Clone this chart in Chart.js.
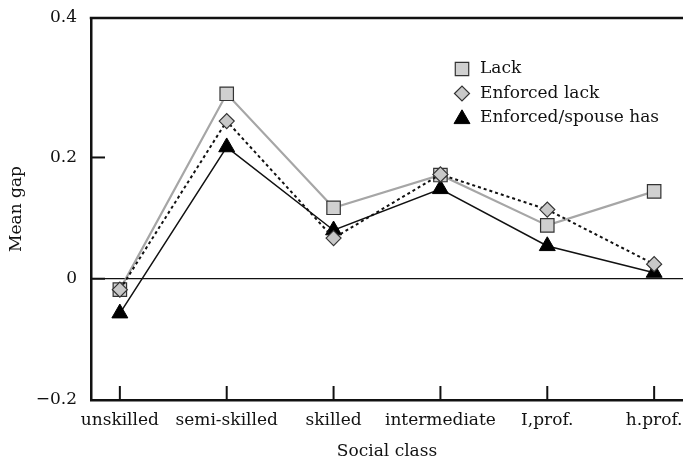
<!DOCTYPE html>
<html>
<head>
<meta charset="utf-8">
<script src="https://cdn.jsdelivr.net/npm/chart.js@4.4.1/dist/chart.umd.min.js"></script>
<style>
  html, body { margin: 0; padding: 0; background: #fff; overflow: hidden; }
  #wrap { width: 683px; height: 463px; }
</style>
</head>
<body>
<div id="wrap"><canvas id="gapChart" width="683" height="463"></canvas></div>
<script>
// values
const classes = ['unskilled', 'semi-skilled', 'skilled', 'intermediate', 'I,prof.', 'h.prof.'];
const lack = [-0.018, 0.305, 0.117, 0.171, 0.088, 0.144];
const enforcedLack = [-0.018, 0.26, 0.067, 0.172, 0.114, 0.024];
const enforcedSpouse = [-0.057, 0.217, 0.08, 0.148, 0.054, 0.01];
const yTickValues = [-0.2, 0, 0.2, 0.43];
const yTickLabels = ['\u22120.2', '0', '0.2', '0.4'];

const FONT = '"DejaVu Serif", serif';
const INK = '#111';

function toPoints(arr) {
    return arr.map((v, i) => ({ x: i, y: v }));
}

// inward tick marks + the top frame line
const frameTicks = {
    id: 'frameTicks',
    afterDatasetsDraw(chart) {
        const { ctx, chartArea, scales } = chart;
        ctx.save();
        ctx.strokeStyle = INK;
        ctx.lineWidth = 2;
        scales.y.ticks.forEach(t => {
            if (t.value >= scales.y.max || t.value <= scales.y.min) return;
            const py = scales.y.getPixelForValue(t.value);
            ctx.beginPath();
            ctx.moveTo(chartArea.left, py);
            ctx.lineTo(chartArea.left + 14, py);
            ctx.stroke();
        });
        scales.x.ticks.forEach(t => {
            const px = scales.x.getPixelForValue(t.value);
            ctx.beginPath();
            ctx.moveTo(px, chartArea.bottom);
            ctx.lineTo(px, chartArea.bottom - 14);
            ctx.stroke();
        });
        ctx.lineWidth = 2.5;
        ctx.beginPath();
        ctx.moveTo(chartArea.left - 1.25, chartArea.top);
        ctx.lineTo(chartArea.right, chartArea.top);
        ctx.stroke();
        ctx.restore();
    }
};

// legend inside the plot, upper right
const insetLegend = {
    id: 'insetLegend',
    afterDraw(chart) {
        const ctx = chart.ctx;
        const mx = 462, tx = 480, y0 = 69, step = 24.5;
        ctx.save();
        ctx.font = '17px ' + FONT;
        ctx.textBaseline = 'middle';
        chart.data.datasets.forEach((ds, i) => {
            const y = y0 + i * step;
            ctx.setLineDash([]);
            ctx.fillStyle = ds.pointBackgroundColor;
            ctx.strokeStyle = ds.pointBorderColor;
            ctx.lineWidth = ds.pointBorderWidth;
            Chart.helpers.drawPoint(ctx, {
                pointStyle: ds.pointStyle,
                radius: ds.pointRadius,
                borderWidth: ds.pointBorderWidth,
                rotation: 0
            }, mx, y + (ds.pointStyle === 'triangle' ? 1 : 0));
            ctx.fillStyle = INK;
            ctx.fillText(ds.label, tx, y);
        });
        ctx.restore();
    }
};

const ctx = document.getElementById('gapChart').getContext('2d');
const gapChart = new Chart(ctx, {
    type: 'line',
    data: {
        datasets: [{
            label: 'Lack',
            data: toPoints(lack),
            borderColor: '#a6a6a6',
            borderWidth: 2.2,
            pointStyle: 'rect',
            pointRadius: 9.5,
            pointBackgroundColor: '#d0d0d0',
            pointBorderColor: '#333',
            pointBorderWidth: 1.2,
            order: 1
        }, {
            label: 'Enforced lack',
            data: toPoints(enforcedLack),
            borderColor: INK,
            borderWidth: 2,
            borderDash: [3, 3],
            pointStyle: 'rectRot',
            pointRadius: 7.5,
            pointBackgroundColor: '#c8c8c8',
            pointBorderColor: '#333',
            pointBorderWidth: 1.2,
            order: 0
        }, {
            label: 'Enforced/spouse has',
            data: toPoints(enforcedSpouse),
            borderColor: INK,
            borderWidth: 1.5,
            pointStyle: 'triangle',
            pointRadius: 9.2,
            pointBackgroundColor: '#000',
            pointBorderColor: '#000',
            pointBorderWidth: 1,
            order: 2
        }]
    },
    options: {
        responsive: false,
        animation: false,
        events: [],
        layout: {
            autoPadding: false,
            padding: { left: 0, top: 18, right: 0, bottom: 0 }
        },
        plugins: {
            legend: { display: false },
            tooltip: { enabled: false }
        },
        scales: {
            x: {
                type: 'linear',
                min: -0.27,
                max: 5.27,
                afterBuildTicks(scale) {
                    scale.ticks = classes.map((c, i) => ({ value: i }));
                },
                afterFit(scale) {
                    scale.height = 63;
                    scale.paddingLeft = 0;
                    scale.paddingRight = 0;
                },
                grid: { display: false, drawTicks: false },
                border: { display: true, color: INK, width: 2.5 },
                ticks: {
                    padding: 10,
                    maxRotation: 0,
                    autoSkip: false,
                    color: INK,
                    font: { family: FONT, size: 17 },
                    callback: v => classes[v]
                },
                title: {
                    display: true,
                    text: 'Social class',
                    color: INK,
                    font: { family: FONT, size: 17 },
                    padding: { top: 0, bottom: 1 }
                }
            },
            y: {
                min: -0.2,
                max: 0.43,
                afterBuildTicks(scale) {
                    scale.ticks = yTickValues.map(v => ({ value: v }));
                },
                afterFit(scale) {
                    scale.width = 91;
                    scale.paddingTop = 0;
                    scale.paddingBottom = 0;
                },
                grid: {
                    drawTicks: false,
                    color: c => (c.tick && c.tick.value === 0 ? INK : 'rgba(0,0,0,0)'),
                    lineWidth: 1.3
                },
                border: { display: true, color: INK, width: 2.5 },
                ticks: {
                    padding: 14,
                    color: INK,
                    font: { family: FONT, size: 17 },
                    callback: (v, i) => yTickLabels[i]
                },
                title: {
                    display: true,
                    text: 'Mean gap',
                    color: INK,
                    font: { family: FONT, size: 17 },
                    padding: { top: 6, bottom: 0 }
                }
            }
        }
    },
    plugins: [frameTicks, insetLegend]
});
</script>
</body>
</html>
